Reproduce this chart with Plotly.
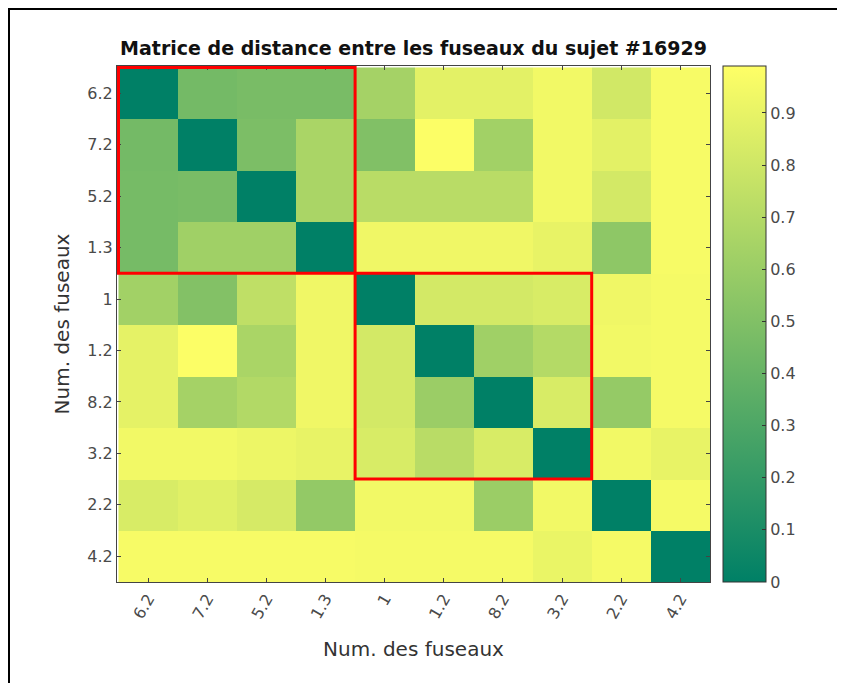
import plotly.graph_objects as go

labels = ["6.2", "7.2", "5.2", "1.3", "1", "1.2", "8.2", "3.2", "2.2", "4.2"]

z = [
    [0.00, 0.45, 0.47, 0.47, 0.64, 0.88, 0.88, 0.94, 0.81, 0.96],
    [0.45, 0.00, 0.48, 0.66, 0.50, 0.98, 0.63, 0.94, 0.88, 0.96],
    [0.46, 0.47, 0.00, 0.66, 0.72, 0.72, 0.72, 0.94, 0.82, 0.96],
    [0.46, 0.62, 0.62, 0.00, 0.93, 0.93, 0.93, 0.90, 0.55, 0.96],
    [0.63, 0.51, 0.74, 0.93, 0.00, 0.82, 0.82, 0.84, 0.93, 0.95],
    [0.89, 0.98, 0.66, 0.93, 0.82, 0.00, 0.62, 0.70, 0.94, 0.95],
    [0.89, 0.64, 0.69, 0.93, 0.82, 0.60, 0.00, 0.84, 0.58, 0.95],
    [0.94, 0.94, 0.92, 0.90, 0.84, 0.72, 0.84, 0.00, 0.94, 0.90],
    [0.84, 0.87, 0.83, 0.57, 0.94, 0.94, 0.60, 0.94, 0.00, 0.95],
    [0.96, 0.96, 0.96, 0.96, 0.95, 0.95, 0.95, 0.91, 0.95, 0.00],
]

clusters = [["6.2", "7.2", "5.2", "1.3"], ["1", "1.2", "8.2", "3.2"]]

cbar_ticks = [0, 0.1, 0.2, 0.3, 0.4, 0.5, 0.6, 0.7, 0.8, 0.9]
zmin, zmax = 0.0, 0.99

title = "Matrice de distance entre les fuseaux du sujet #16929"
axis_title = "Num. des fuseaux"

summer = [[0.0, "rgb(0,128,102)"], [1.0, "rgb(255,255,102)"]]

# page body has an 8px margin, so the figure is drawn 8px down/right
OFF = 8
W, H = 845 - OFF, 683 - OFF
L, T = 117 - OFF, 66 - OFF
pw, ph = 593, 516
R, B = W - L - pw, H - T - ph

font_fam = "DejaVu Sans, Verdana, sans-serif"
tick_col = "#4a4a4a"

fig = go.Figure(
    go.Heatmap(
        z=z, x=labels, y=labels,
        colorscale=summer, zmin=zmin, zmax=zmax,
        colorbar=dict(
            x=(723 - 117) / pw, xanchor="left", xref="paper", xpad=0,
            y=0.5, yanchor="middle", len=1.0, lenmode="fraction", ypad=0,
            thickness=43, thicknessmode="pixels",
            outlinewidth=1, outlinecolor="#333333",
            tickvals=cbar_ticks, ticktext=[f"{v:g}" for v in cbar_ticks],
            ticks="inside", ticklen=4, tickcolor="#333333",
            tickfont=dict(family=font_fam, size=16, color=tick_col),
        ),
    )
)

shapes = []
for grp in clusters:
    idx = [labels.index(g) for g in grp]
    shapes.append(dict(
        type="rect", xref="x", yref="y",
        x0=min(idx) - 0.5, x1=max(idx) + 0.5,
        y0=min(idx) - 0.5, y1=max(idx) + 0.5,
        line=dict(color="#ff0000", width=3), fillcolor="rgba(0,0,0,0)",
        layer="above",
    ))

# figure frame lines (top and left), at the very edge of the figure
px = lambda v: (v - L) / pw
py = lambda v: (H - B - v) / ph
shapes.append(dict(type="line", xref="paper", yref="paper",
                   x0=px(0), x1=px(W), y0=py(1), y1=py(1),
                   line=dict(color="black", width=2)))
shapes.append(dict(type="line", xref="paper", yref="paper",
                   x0=px(1), x1=px(1), y0=py(0), y1=py(H),
                   line=dict(color="black", width=2)))

fig.update_layout(
    width=W, height=H,
    margin=dict(l=L, r=R, t=T, b=B),
    paper_bgcolor="white", plot_bgcolor="white",
    title=dict(text=f"<b>{title}</b>", x=0.5, xref="paper", xanchor="center",
               y=1 - (48 - OFF) / H, yref="container", yanchor="middle",
               font=dict(family=font_fam, size=19, color="#111111")),
    xaxis=dict(type="category", tickangle=-60, ticks="inside", ticklen=4,
               tickcolor="#444444",
               showline=True, linecolor="#444444", linewidth=1, mirror="ticks",
               tickfont=dict(family=font_fam, size=16, color=tick_col),
               title=dict(text=axis_title, standoff=20,
                          font=dict(family=font_fam, size=20, color="#333333")),
               showgrid=False, zeroline=False),
    yaxis=dict(type="category", autorange="reversed", ticks="inside", ticklen=4,
               tickcolor="#444444",
               showline=True, linecolor="#444444", linewidth=1, mirror="ticks",
               tickfont=dict(family=font_fam, size=16, color=tick_col),
               title=dict(text=axis_title, standoff=12,
                          font=dict(family=font_fam, size=20, color="#333333")),
               showgrid=False, zeroline=False),
    shapes=shapes,
    font=dict(family=font_fam),
)

fig.write_html("out.html")
